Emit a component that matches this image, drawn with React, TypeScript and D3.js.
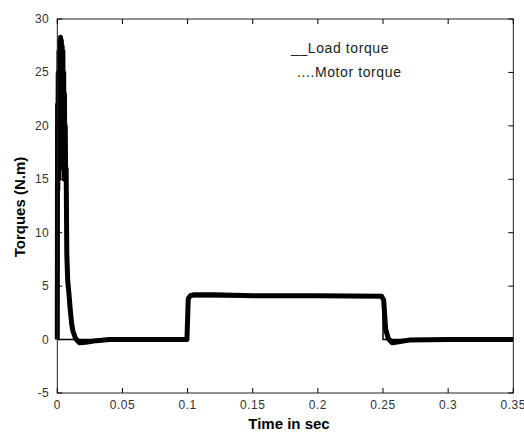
import React, { useEffect, useRef } from 'react';
import * as d3 from 'd3';

// motor torque (oscillating start-up, load step at 0.1 s, release at 0.25 s)
const motorTime = [
  0, 0.0002, 0.0004, 0.0007, 0.001, 0.0013, 0.0016, 0.0019, 0.0022, 0.0025, 0.0028, 0.0031,
  0.0034, 0.0037, 0.004, 0.0043, 0.0046, 0.0049, 0.0052, 0.0055, 0.0058, 0.0061, 0.0064,
  0.0068, 0.0073, 0.008, 0.009, 0.0098, 0.011, 0.012, 0.014, 0.017, 0.022, 0.03, 0.04,
  0.0995, 0.1005, 0.102, 0.105, 0.12, 0.15, 0.2, 0.249,
  0.2505, 0.252, 0.254, 0.257, 0.262, 0.27, 0.3, 0.35,
];
const motorTorque = [
  0, 22, 14, 25, 15, 27, 16, 28, 17, 28.3, 18, 28,
  18, 27.5, 17, 27, 16, 25, 15, 23, 15, 20, 15,
  16, 8, 5.5, 4.2, 3.0, 1.5, 0.8, 0.1, -0.3, -0.25, -0.1, 0,
  0, 3.8, 4.1, 4.2, 4.2, 4.1, 4.1, 4.05,
  3.7, 1.0, 0.1, -0.3, -0.2, -0.05, 0, 0,
];

// load torque step
const loadTime = [0, 0.1, 0.1, 0.25, 0.25, 0.35];
const loadTorque = [0, 0, 4, 4, 0, 0];

const xTicks = [0, 0.05, 0.1, 0.15, 0.2, 0.25, 0.3, 0.35];
const yTicks = [-5, 0, 5, 10, 15, 20, 25, 30];
const legendLabels = ['__Load torque', '....Motor torque'];

export default function App() {
  const ref = useRef<SVGSVGElement>(null);

  useEffect(() => {
    const svg = d3.select(ref.current);
    svg.selectAll('*').remove();

    const left = 57.3, right = 513.3, top = 19, bottom = 393;
    const x = d3.scaleLinear().domain([0, 0.35]).range([left, right]);
    const y = d3.scaleLinear().domain([-5, 30]).range([bottom, top]);
    const font = 'Liberation Sans, Arial, sans-serif';

    const line = d3.line<[number, number]>()
      .x(d => x(d[0]))
      .y(d => y(d[1]));

    const motor = motorTime.map((t, i) => [t, motorTorque[i]] as [number, number]);
    const load = loadTime.map((t, i) => [t, loadTorque[i]] as [number, number]);

    svg.append('path')
      .attr('d', line(motor))
      .attr('fill', 'none')
      .attr('stroke', '#000')
      .attr('stroke-width', 5)
      .attr('stroke-linejoin', 'round');

    svg.append('path')
      .attr('d', line(load))
      .attr('fill', 'none')
      .attr('stroke', '#000')
      .attr('stroke-width', 1.5);

    // box
    svg.append('rect')
      .attr('x', left).attr('y', top)
      .attr('width', right - left).attr('height', bottom - top)
      .attr('fill', 'none')
      .attr('stroke', '#222')
      .attr('stroke-width', 1);

    const tl = 5;
    xTicks.forEach(t => {
      svg.append('line').attr('x1', x(t)).attr('x2', x(t)).attr('y1', bottom).attr('y2', bottom - tl).attr('stroke', '#000');
      svg.append('line').attr('x1', x(t)).attr('x2', x(t)).attr('y1', top).attr('y2', top + tl).attr('stroke', '#000');
      svg.append('text')
        .attr('x', x(t)).attr('y', bottom + 16)
        .attr('text-anchor', 'middle')
        .attr('font-family', font).attr('font-size', 12)
        .attr('letter-spacing', 0.5)
        .attr('fill', '#333')
        .text(String(t));
    });

    yTicks.forEach(v => {
      svg.append('line').attr('x1', left).attr('x2', left + tl).attr('y1', y(v)).attr('y2', y(v)).attr('stroke', '#000');
      svg.append('line').attr('x1', right).attr('x2', right - tl).attr('y1', y(v)).attr('y2', y(v)).attr('stroke', '#000');
      svg.append('text')
        .attr('x', left - 8).attr('y', y(v) + 4)
        .attr('text-anchor', 'end')
        .attr('font-family', font).attr('font-size', 12)
        .attr('letter-spacing', 0.5)
        .attr('fill', '#333')
        .text(String(v));
    });

    svg.append('text')
      .attr('x', 289).attr('y', 429)
      .attr('text-anchor', 'middle')
      .attr('font-family', font).attr('font-size', 15).attr('font-weight', 'bold')
      .text('Time in sec');

    svg.append('text')
      .attr('transform', 'translate(25,207) rotate(-90)')
      .attr('text-anchor', 'middle')
      .attr('font-family', font).attr('font-size', 15).attr('font-weight', 'bold')
      .text('Torques (N.m)');

    svg.append('text')
      .attr('x', 291).attr('y', 53)
      .attr('font-family', font).attr('font-size', 14)
      .attr('letter-spacing', 0.6)
      .attr('fill', '#222')
      .text(legendLabels[0]);
    svg.append('text')
      .attr('x', 297).attr('y', 77)
      .attr('font-family', font).attr('font-size', 14)
      .attr('letter-spacing', 0.6)
      .attr('fill', '#222')
      .text(legendLabels[1]);
  }, []);

  return (
    <svg
      ref={ref}
      width={524}
      height={434}
      style={{ position: 'absolute', left: 0, top: 0, background: '#fff' }}
    />
  );
}
